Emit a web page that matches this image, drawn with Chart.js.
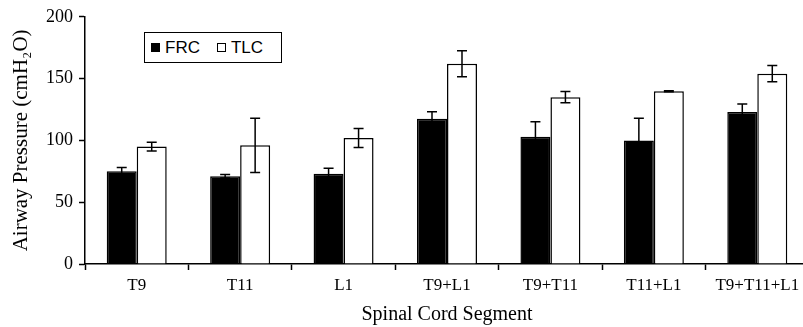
<!DOCTYPE html>
<html>
<head>
<meta charset="utf-8">
<script src="https://cdn.jsdelivr.net/npm/chart.js@4.4.1/dist/chart.umd.min.js"></script>
<style>
  html, body { margin: 0; padding: 0; background: #fff; overflow: hidden; }
  #wrap { position: relative; width: 810px; height: 327px; }
  #legend {
    position: absolute; left: 144px; top: 32px; width: 138px; height: 31px;
    border: 1.5px solid #000; box-sizing: border-box; background: #fff;
    font-family: "Liberation Sans", Arial, sans-serif; font-size: 17px;
    display: flex; align-items: center; padding-left: 6px;
  }
  .sw { display: inline-block; width: 9px; height: 9px; border: 1px solid #000; box-sizing: border-box; margin-right: 5px; }
</style>
</head>
<body>
<div id="wrap">
  <canvas id="myChart" width="810" height="327"></canvas>
  <div id="legend">
    <span class="sw" style="background:#000"></span><span>FRC</span>
    <span class="sw" style="background:#fff;margin-left:17px"></span><span>TLC</span>
  </div>
</div>
<script>
const segments = ["T9", "T11", "L1", "T9+L1", "T9+T11", "T11+L1", "T9+T11+L1"];
const frc = [75, 71, 73, 117.5, 103, 100, 123];
const frcErr = [3, 1.5, 4.5, 5.6, 12, 18, 6.5];
const tlc = [95, 96, 102, 162, 135, 139.8, 154];
const tlcErr = [3.5, 22, 7.7, 10.5, 4.5, 0.4, 6.5];
const yTicks = [0, 50, 100, 150, 200];

const errorBars = {
  id: "errorBars",
  afterDatasetsDraw(chart) {
    const ctx = chart.ctx;
    const y = chart.scales.y;
    const errs = [frcErr, tlcErr];
    ctx.save();
    ctx.strokeStyle = "#000";
    ctx.lineWidth = 1.5;
    chart.data.datasets.forEach((ds, i) => {
      chart.getDatasetMeta(i).data.forEach((bar, j) => {
        const top = y.getPixelForValue(ds.data[j] + errs[i][j]);
        const bot = y.getPixelForValue(ds.data[j] - errs[i][j]);
        const x = bar.x;
        ctx.beginPath();
        ctx.moveTo(x, top); ctx.lineTo(x, bot);
        ctx.moveTo(x - 5, top); ctx.lineTo(x + 5, top);
        ctx.moveTo(x - 5, bot); ctx.lineTo(x + 5, bot);
        ctx.stroke();
      });
    });
    ctx.restore();
  }
};

const ctx = document.getElementById("myChart").getContext("2d");
const myChart = new Chart(ctx, {
  type: "bar",
  data: {
    labels: segments,
    datasets: [
      {
        label: "FRC",
        data: frc,
        backgroundColor: "#000",
        borderColor: "#000",
        borderWidth: 1.5,
      },
      {
        label: "TLC",
        data: tlc,
        backgroundColor: "#fff",
        borderColor: "#000",
        borderWidth: 1.5,
      },
    ],
  },
  options: {
    responsive: false,
    animation: false,
    layout: { padding: { top: 15, right: 1, left: 0, bottom: 0 } },
    datasets: { bar: { categoryPercentage: 0.58, barPercentage: 1.0 } },
    plugins: { legend: { display: false }, tooltip: { enabled: false } },
    scales: {
      x: {
        offset: true,
        grid: { offset: true, drawOnChartArea: false, color: "#000", tickLength: 6, tickWidth: 1.5 },
        border: { color: "#000", width: 1.5 },
        ticks: { color: "#000", padding: 5, font: { family: "Liberation Serif", size: 17 } },
        title: {
          display: true, text: "Spinal Cord Segment", color: "#000",
          font: { family: "Liberation Serif", size: 20 }, padding: { top: 4, bottom: 0 },
        },
        afterFit: (s) => { s.height = 63; },
      },
      y: {
        min: 0, max: 200,
        afterBuildTicks: (s) => { s.ticks = yTicks.map((v) => ({ value: v })); },
        grid: { drawOnChartArea: false, color: "#000", tickLength: 6, tickWidth: 1.5 },
        border: { color: "#000", width: 1.5 },
        ticks: { color: "#000", padding: 6, font: { family: "Liberation Serif", size: 18 } },
        title: {
          display: true, text: "Airway Pressure (cmH₂O)", color: "#000",
          font: { family: "Liberation Serif", size: 21 }, padding: { top: 9, bottom: 0 },
        },
        afterFit: (s) => { s.width = 85; },
      },
    },
  },
  plugins: [errorBars],
});
</script>
</body>
</html>
